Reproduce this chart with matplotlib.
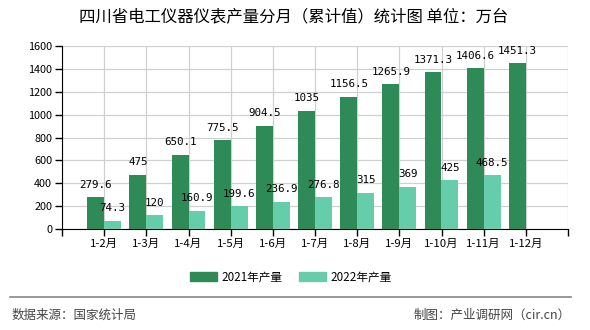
import matplotlib
matplotlib.use("Agg")
import matplotlib.pyplot as plt
import numpy as np
from matplotlib.patches import Patch

plt.rcParams['font.family'] = ['Noto Sans CJK SC', 'DejaVu Sans']

categories = ["1-2月", "1-3月", "1-4月", "1-5月", "1-6月", "1-7月", "1-8月",
              "1-9月", "1-10月", "1-11月", "1-12月"]
values_2021 = [279.6, 475, 650.1, 775.5, 904.5, 1035, 1156.5, 1265.9, 1371.3, 1406.6, 1451.3]
values_2022 = [74.3, 120, 160.9, 199.6, 236.9, 276.8, 315, 369, 425, 468.5, None]
series_names = ["2021年产量", "2022年产量"]
title = "四川省电工仪器仪表产量分月（累计值）统计图 单位：万台"
source = "数据来源：国家统计局"
credit = "制图：产业调研网（cir.cn）"

c1 = "#2e8b57"
c2 = "#66cdaa"

fig = plt.figure(figsize=(5.9, 3.3), dpi=100)
ax = fig.add_axes([62/590, 1-229/330, (568-62)/590, (229-46)/330])

x = np.arange(len(categories))
w = 0.4
for i, v in enumerate(values_2021):
    ax.bar(x[i] - w/2, v, width=w, color=c1, zorder=3)
    ax.annotate(f"{v:g}", (x[i] - w/2, v), xytext=(0, 9), textcoords="offset points",
                ha="center", va="center", fontsize=7.8, family="DejaVu Sans Mono", color="#000", zorder=4)
for i, v in enumerate(values_2022):
    if v is None:
        continue
    ax.bar(x[i] + w/2, v, width=w, color=c2, zorder=3)
    ax.annotate(f"{v:g}", (x[i] + w/2, v), xytext=(0, 9), textcoords="offset points",
                ha="center", va="center", fontsize=7.8, family="DejaVu Sans Mono", color="#000", zorder=4)

ax.set_xlim(-1, len(categories))
ax.set_ylim(0, 1600)
ax.set_yticks(np.arange(0, 1601, 200))
ax.set_xticks(np.arange(-1, len(categories) + 1))
ax.set_xticklabels([""] + categories + [""])
ax.grid(True, color="#d0d0d0", linewidth=0.9, zorder=0)
ax.set_axisbelow(True)
for s in ["top", "right"]:
    ax.spines[s].set_visible(False)
ax.spines["left"].set_color("#000")
ax.spines["bottom"].set_color("#000")
ax.tick_params(axis="both", length=5, width=1, color="#000", labelsize=8.2, labelcolor="#000", pad=2)
ax.tick_params(axis="y", labelsize=7.8)

fig.text(0.498, 1-17/330, title, ha="center", va="center", fontsize=11.8, color="#000")

handles = [Patch(color=c1), Patch(color=c2)]
fig.legend(handles, series_names, loc="center", bbox_to_anchor=(291/590, 1-277/330),
           ncol=2, frameon=False, fontsize=8.4, handlelength=2.3, handleheight=0.8,
           handletextpad=0.4, columnspacing=1.4)

fig.add_artist(plt.Line2D([10/590, 571/590], [1-297/330, 1-297/330], color="#888", linewidth=1.2))
fig.text(12/590, 1-315/330, source, ha="left", va="center", fontsize=9, color="#444")
fig.text(571/590, 1-315/330, credit, ha="right", va="center", fontsize=9, color="#444")

fig.savefig("out.png", dpi=100)
